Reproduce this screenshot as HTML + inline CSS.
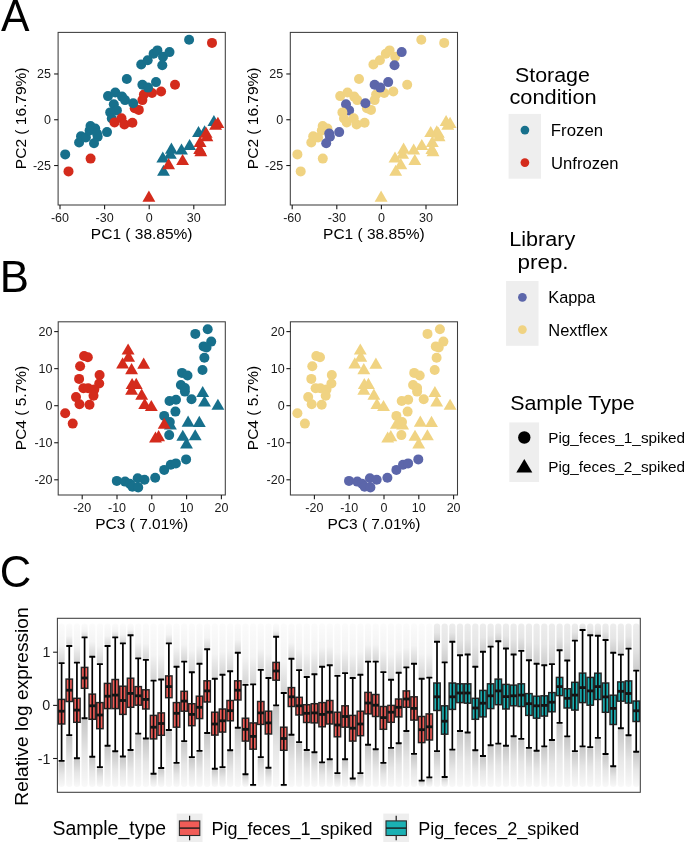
<!DOCTYPE html><html><head><meta charset="utf-8"><style>html,body{margin:0;padding:0;background:#fff;width:685px;height:843px;overflow:hidden}</style></head><body><svg width="685" height="843" viewBox="0 0 685 843" style="display:block;will-change:transform;font-family:'Liberation Sans', sans-serif"><rect width="685" height="843" fill="#fff"/><text transform="translate(0.9,31.4) scale(0.96,1)" font-size="44.5" fill="#000">A</text><text transform="translate(-0.21,292.2) scale(0.99,1)" font-size="44.2" fill="#000">B</text><text transform="translate(-0.17,586.8) scale(0.98,1)" font-size="44.5" fill="#000">C</text><rect x="58.1" y="32.4" width="167.2" height="172.6" fill="#fff"/><circle cx="134.7" cy="108.3" r="5" fill="#D42B1C"/><circle cx="138.8" cy="109.9" r="5" fill="#D42B1C"/><circle cx="142.4" cy="100.1" r="5" fill="#D42B1C"/><circle cx="143.9" cy="94.5" r="5" fill="#D42B1C"/><circle cx="152" cy="93" r="5" fill="#D42B1C"/><circle cx="161.1" cy="91.5" r="5" fill="#D42B1C"/><circle cx="175" cy="84.7" r="5" fill="#D42B1C"/><circle cx="212" cy="42.9" r="5" fill="#D42B1C"/><circle cx="65.2" cy="154.4" r="5" fill="#17708C"/><circle cx="79.1" cy="142.5" r="5" fill="#17708C"/><circle cx="81" cy="136.3" r="5" fill="#17708C"/><circle cx="85.9" cy="137.5" r="5" fill="#17708C"/><circle cx="90.5" cy="126.1" r="5" fill="#17708C"/><circle cx="95.2" cy="128.6" r="5" fill="#17708C"/><circle cx="89.6" cy="130.5" r="5" fill="#17708C"/><circle cx="97.7" cy="136.7" r="5" fill="#17708C"/><circle cx="94" cy="143.3" r="5" fill="#17708C"/><circle cx="107" cy="132.1" r="5" fill="#17708C"/><circle cx="108" cy="96.1" r="5" fill="#17708C"/><circle cx="115.3" cy="92.5" r="5" fill="#17708C"/><circle cx="122" cy="96.6" r="5" fill="#17708C"/><circle cx="125" cy="100.1" r="5" fill="#17708C"/><circle cx="133.2" cy="103.2" r="5" fill="#17708C"/><circle cx="113.8" cy="104.2" r="5" fill="#17708C"/><circle cx="116.9" cy="110.4" r="5" fill="#17708C"/><circle cx="110.2" cy="112.4" r="5" fill="#17708C"/><circle cx="111.8" cy="118.5" r="5" fill="#17708C"/><circle cx="126.8" cy="79" r="5" fill="#17708C"/><circle cx="142.4" cy="84.8" r="5" fill="#17708C"/><circle cx="148" cy="87.6" r="5" fill="#17708C"/><circle cx="156" cy="82.1" r="5" fill="#17708C"/><circle cx="141.2" cy="64.5" r="5" fill="#17708C"/><circle cx="147.7" cy="60.3" r="5" fill="#17708C"/><circle cx="153.6" cy="53.7" r="5" fill="#17708C"/><circle cx="157.4" cy="50.4" r="5" fill="#17708C"/><circle cx="163" cy="56.8" r="5" fill="#17708C"/><circle cx="169.5" cy="52.1" r="5" fill="#17708C"/><circle cx="162.3" cy="65.3" r="5" fill="#17708C"/><circle cx="189.1" cy="39.8" r="5" fill="#17708C"/><circle cx="97" cy="133.6" r="5" fill="#17708C"/><circle cx="68.5" cy="171.4" r="5" fill="#D42B1C"/><circle cx="90.6" cy="158.6" r="5" fill="#D42B1C"/><circle cx="114.5" cy="122.4" r="5" fill="#D42B1C"/><circle cx="121.5" cy="118.3" r="5" fill="#D42B1C"/><circle cx="124.4" cy="124.4" r="5" fill="#D42B1C"/><circle cx="132.4" cy="122.8" r="5" fill="#D42B1C"/><path d="M162.8 151.5L169.25 162.6L156.35 162.6Z" fill="#17708C"/><path d="M171.4 142.6L177.85 153.7L164.95 153.7Z" fill="#17708C"/><path d="M170.4 147.7L176.85 158.8L163.95 158.8Z" fill="#17708C"/><path d="M181.5 143.5L187.95 154.6L175.05 154.6Z" fill="#17708C"/><path d="M189.6 138.9L196.05 150L183.15 150Z" fill="#17708C"/><path d="M163.5 164.7L169.95 175.8L157.05 175.8Z" fill="#17708C"/><path d="M198.5 125.9L204.95 137L192.05 137Z" fill="#17708C"/><path d="M204.6 125.2L211.05 136.3L198.15 136.3Z" fill="#17708C"/><path d="M213.9 114.9L220.35 126L207.45 126Z" fill="#17708C"/><path d="M168.6 158.1L175.05 169.2L162.15 169.2Z" fill="#D42B1C"/><path d="M182.6 154L189.05 165.1L176.15 165.1Z" fill="#D42B1C"/><path d="M148.9 190.6L155.35 201.7L142.45 201.7Z" fill="#D42B1C"/><path d="M217.9 116.8L224.35 127.9L211.45 127.9Z" fill="#D42B1C"/><path d="M215.6 118.7L222.05 129.8L209.15 129.8Z" fill="#D42B1C"/><path d="M206.1 126.7L212.55 137.8L199.65 137.8Z" fill="#D42B1C"/><path d="M206.9 130.1L213.35 141.2L200.45 141.2Z" fill="#D42B1C"/><path d="M200.1 135.8L206.55 146.9L193.65 146.9Z" fill="#D42B1C"/><path d="M199.7 142.8L206.15 153.9L193.25 153.9Z" fill="#D42B1C"/><path d="M200.8 145.1L207.25 156.2L194.35 156.2Z" fill="#D42B1C"/><rect x="58.1" y="32.4" width="167.2" height="172.6" fill="none" stroke="#3d3d3d" stroke-width="1.05"/><line x1="60" y1="205" x2="60" y2="209.2" stroke="#1a1a1a" stroke-width="1.1"/><text transform="translate(50.96,221.7)" font-size="12.5" fill="#1a1a1a">-60</text><line x1="104.6" y1="205" x2="104.6" y2="209.2" stroke="#1a1a1a" stroke-width="1.1"/><text transform="translate(95.57,221.7)" font-size="12.5" fill="#1a1a1a">-30</text><line x1="149.2" y1="205" x2="149.2" y2="209.2" stroke="#1a1a1a" stroke-width="1.1"/><text transform="translate(145.72,221.7)" font-size="12.5" fill="#1a1a1a">0</text><line x1="193.8" y1="205" x2="193.8" y2="209.2" stroke="#1a1a1a" stroke-width="1.1"/><text transform="translate(186.85,221.7)" font-size="12.5" fill="#1a1a1a">30</text><line x1="54.1" y1="73.97" x2="58.1" y2="73.97" stroke="#1a1a1a" stroke-width="1.1"/><text x="37.05" y="78.41" font-size="12.5" fill="#1a1a1a">25</text><line x1="54.1" y1="119.75" x2="58.1" y2="119.75" stroke="#1a1a1a" stroke-width="1.1"/><text x="44" y="124.19" font-size="12.5" fill="#1a1a1a">0</text><line x1="54.1" y1="165.53" x2="58.1" y2="165.53" stroke="#1a1a1a" stroke-width="1.1"/><text x="32.89" y="169.96" font-size="12.5" fill="#1a1a1a">-25</text><text transform="translate(90.87,238.7)" font-size="15.5" fill="#000">PC1 ( 38.85%)</text><text transform="translate(25.9,118.3) rotate(-90)" font-size="15.5" fill="#000" text-anchor="middle">PC2 ( 16.79%)</text><rect x="290.3" y="32.4" width="167.2" height="172.6" fill="#fff"/><circle cx="366.9" cy="108.3" r="5" fill="#F0D382"/><circle cx="371" cy="109.9" r="5" fill="#F0D382"/><circle cx="374.6" cy="100.1" r="5" fill="#F0D382"/><circle cx="376.1" cy="94.5" r="5" fill="#F0D382"/><circle cx="384.2" cy="93" r="5" fill="#F0D382"/><circle cx="393.3" cy="91.5" r="5" fill="#F0D382"/><circle cx="407.2" cy="84.7" r="5" fill="#F0D382"/><circle cx="444.2" cy="42.9" r="5" fill="#F0D382"/><circle cx="297.4" cy="154.4" r="5" fill="#F0D382"/><circle cx="311.3" cy="142.5" r="5" fill="#F0D382"/><circle cx="313.2" cy="136.3" r="5" fill="#F0D382"/><circle cx="318.1" cy="137.5" r="5" fill="#F0D382"/><circle cx="322.7" cy="126.1" r="5" fill="#F0D382"/><circle cx="327.4" cy="128.6" r="5" fill="#F0D382"/><circle cx="321.8" cy="130.5" r="5" fill="#F0D382"/><circle cx="329.9" cy="136.7" r="5" fill="#5C66AA"/><circle cx="326.2" cy="143.3" r="5" fill="#5C66AA"/><circle cx="339.2" cy="132.1" r="5" fill="#5C66AA"/><circle cx="340.2" cy="96.1" r="5" fill="#F0D382"/><circle cx="347.5" cy="92.5" r="5" fill="#F0D382"/><circle cx="354.2" cy="96.6" r="5" fill="#F0D382"/><circle cx="357.2" cy="100.1" r="5" fill="#F0D382"/><circle cx="365.4" cy="103.2" r="5" fill="#5C66AA"/><circle cx="346" cy="104.2" r="5" fill="#5C66AA"/><circle cx="349.1" cy="110.4" r="5" fill="#5C66AA"/><circle cx="342.4" cy="112.4" r="5" fill="#F0D382"/><circle cx="344" cy="118.5" r="5" fill="#F0D382"/><circle cx="359" cy="79" r="5" fill="#F0D382"/><circle cx="374.6" cy="84.8" r="5" fill="#5C66AA"/><circle cx="380.2" cy="87.6" r="5" fill="#5C66AA"/><circle cx="388.2" cy="82.1" r="5" fill="#5C66AA"/><circle cx="373.4" cy="64.5" r="5" fill="#F0D382"/><circle cx="379.9" cy="60.3" r="5" fill="#F0D382"/><circle cx="385.8" cy="53.7" r="5" fill="#F0D382"/><circle cx="389.6" cy="50.4" r="5" fill="#F0D382"/><circle cx="395.2" cy="56.8" r="5" fill="#F0D382"/><circle cx="401.7" cy="52.1" r="5" fill="#5C66AA"/><circle cx="394.5" cy="65.3" r="5" fill="#5C66AA"/><circle cx="421.3" cy="39.8" r="5" fill="#F0D382"/><circle cx="329.2" cy="133.6" r="5" fill="#5C66AA"/><circle cx="300.7" cy="171.4" r="5" fill="#F0D382"/><circle cx="322.8" cy="158.6" r="5" fill="#F0D382"/><circle cx="346.7" cy="122.4" r="5" fill="#F0D382"/><circle cx="353.7" cy="118.3" r="5" fill="#F0D382"/><circle cx="356.6" cy="124.4" r="5" fill="#F0D382"/><circle cx="364.6" cy="122.8" r="5" fill="#F0D382"/><path d="M395 151.5L401.45 162.6L388.55 162.6Z" fill="#F0D382"/><path d="M403.6 142.6L410.05 153.7L397.15 153.7Z" fill="#F0D382"/><path d="M402.6 147.7L409.05 158.8L396.15 158.8Z" fill="#F0D382"/><path d="M413.7 143.5L420.15 154.6L407.25 154.6Z" fill="#F0D382"/><path d="M421.8 138.9L428.25 150L415.35 150Z" fill="#F0D382"/><path d="M395.7 164.7L402.15 175.8L389.25 175.8Z" fill="#F0D382"/><path d="M430.7 125.9L437.15 137L424.25 137Z" fill="#F0D382"/><path d="M436.8 125.2L443.25 136.3L430.35 136.3Z" fill="#F0D382"/><path d="M446.1 114.9L452.55 126L439.65 126Z" fill="#F0D382"/><path d="M400.8 158.1L407.25 169.2L394.35 169.2Z" fill="#F0D382"/><path d="M414.8 154L421.25 165.1L408.35 165.1Z" fill="#F0D382"/><path d="M381.1 190.6L387.55 201.7L374.65 201.7Z" fill="#F0D382"/><path d="M450.1 116.8L456.55 127.9L443.65 127.9Z" fill="#F0D382"/><path d="M447.8 118.7L454.25 129.8L441.35 129.8Z" fill="#F0D382"/><path d="M438.3 126.7L444.75 137.8L431.85 137.8Z" fill="#F0D382"/><path d="M439.1 130.1L445.55 141.2L432.65 141.2Z" fill="#F0D382"/><path d="M432.3 135.8L438.75 146.9L425.85 146.9Z" fill="#F0D382"/><path d="M431.9 142.8L438.35 153.9L425.45 153.9Z" fill="#F0D382"/><path d="M433 145.1L439.45 156.2L426.55 156.2Z" fill="#F0D382"/><rect x="290.3" y="32.4" width="167.2" height="172.6" fill="none" stroke="#3d3d3d" stroke-width="1.05"/><line x1="292.2" y1="205" x2="292.2" y2="209.2" stroke="#1a1a1a" stroke-width="1.1"/><text transform="translate(283.16,221.7)" font-size="12.5" fill="#1a1a1a">-60</text><line x1="336.8" y1="205" x2="336.8" y2="209.2" stroke="#1a1a1a" stroke-width="1.1"/><text transform="translate(327.77,221.7)" font-size="12.5" fill="#1a1a1a">-30</text><line x1="381.4" y1="205" x2="381.4" y2="209.2" stroke="#1a1a1a" stroke-width="1.1"/><text transform="translate(377.92,221.7)" font-size="12.5" fill="#1a1a1a">0</text><line x1="426" y1="205" x2="426" y2="209.2" stroke="#1a1a1a" stroke-width="1.1"/><text transform="translate(419.05,221.7)" font-size="12.5" fill="#1a1a1a">30</text><line x1="286.3" y1="73.97" x2="290.3" y2="73.97" stroke="#1a1a1a" stroke-width="1.1"/><text x="269.25" y="78.41" font-size="12.5" fill="#1a1a1a">25</text><line x1="286.3" y1="119.75" x2="290.3" y2="119.75" stroke="#1a1a1a" stroke-width="1.1"/><text x="276.2" y="124.19" font-size="12.5" fill="#1a1a1a">0</text><line x1="286.3" y1="165.53" x2="290.3" y2="165.53" stroke="#1a1a1a" stroke-width="1.1"/><text x="265.09" y="169.96" font-size="12.5" fill="#1a1a1a">-25</text><text transform="translate(323.07,238.7)" font-size="15.5" fill="#000">PC1 ( 38.85%)</text><text transform="translate(258.1,118.3) rotate(-90)" font-size="15.5" fill="#000" text-anchor="middle">PC2 ( 16.79%)</text><circle cx="207.7" cy="329.2" r="5" fill="#17708C"/><circle cx="195.3" cy="333.9" r="5" fill="#17708C"/><circle cx="211.2" cy="341.6" r="5" fill="#17708C"/><circle cx="203.6" cy="346.4" r="5" fill="#17708C"/><circle cx="206.5" cy="347.5" r="5" fill="#17708C"/><circle cx="204.4" cy="357.8" r="5" fill="#17708C"/><circle cx="202.5" cy="370" r="5" fill="#17708C"/><circle cx="182" cy="372.9" r="5" fill="#17708C"/><circle cx="187.5" cy="375.5" r="5" fill="#17708C"/><circle cx="180.9" cy="385" r="5" fill="#17708C"/><circle cx="184.9" cy="388" r="5" fill="#17708C"/><circle cx="184.9" cy="391.6" r="5" fill="#17708C"/><circle cx="191.5" cy="399.2" r="5" fill="#17708C"/><circle cx="176" cy="399.8" r="5" fill="#17708C"/><circle cx="169.5" cy="401" r="5" fill="#17708C"/><circle cx="175.4" cy="411.6" r="5" fill="#17708C"/><circle cx="164.2" cy="415.9" r="5" fill="#17708C"/><circle cx="169.8" cy="422.1" r="5" fill="#17708C"/><circle cx="169.2" cy="435.1" r="5" fill="#17708C"/><circle cx="116.8" cy="480.9" r="5" fill="#17708C"/><circle cx="125.1" cy="481.6" r="5" fill="#17708C"/><circle cx="129.9" cy="483.8" r="5" fill="#17708C"/><circle cx="132.4" cy="486.7" r="5" fill="#17708C"/><circle cx="137.7" cy="478.2" r="5" fill="#17708C"/><circle cx="138.2" cy="487.4" r="5" fill="#17708C"/><circle cx="144.5" cy="479.7" r="5" fill="#17708C"/><circle cx="155.2" cy="477.7" r="5" fill="#17708C"/><circle cx="164.2" cy="469.9" r="5" fill="#17708C"/><circle cx="170.8" cy="464.8" r="5" fill="#17708C"/><circle cx="175.9" cy="463.4" r="5" fill="#17708C"/><circle cx="186.1" cy="459.4" r="5" fill="#17708C"/><path d="M202.7 386L209.15 397.1L196.25 397.1Z" fill="#17708C"/><path d="M204.5 395.5L210.95 406.6L198.05 406.6Z" fill="#17708C"/><path d="M217.9 398.7L224.35 409.8L211.45 409.8Z" fill="#17708C"/><path d="M188.1 415.6L194.55 426.7L181.65 426.7Z" fill="#17708C"/><path d="M199.3 415.8L205.75 426.9L192.85 426.9Z" fill="#17708C"/><path d="M182.8 429.7L189.25 440.8L176.35 440.8Z" fill="#17708C"/><path d="M195.2 429.2L201.65 440.3L188.75 440.3Z" fill="#17708C"/><path d="M186.5 437.5L192.95 448.6L180.05 448.6Z" fill="#17708C"/><path d="M170.4 418.3L176.85 429.4L163.95 429.4Z" fill="#17708C"/><circle cx="84.1" cy="356" r="5" fill="#D42B1C"/><circle cx="87.8" cy="357.2" r="5" fill="#D42B1C"/><circle cx="80.1" cy="366.2" r="5" fill="#D42B1C"/><circle cx="79.1" cy="378.9" r="5" fill="#D42B1C"/><circle cx="99.6" cy="375" r="5" fill="#D42B1C"/><circle cx="99.2" cy="383.5" r="5" fill="#D42B1C"/><circle cx="83.4" cy="388.3" r="5" fill="#D42B1C"/><circle cx="88.2" cy="388.3" r="5" fill="#D42B1C"/><circle cx="94.3" cy="389.6" r="5" fill="#D42B1C"/><circle cx="93.5" cy="395.8" r="5" fill="#D42B1C"/><circle cx="76" cy="397.1" r="5" fill="#D42B1C"/><circle cx="79.5" cy="404.3" r="5" fill="#D42B1C"/><circle cx="89.5" cy="404.7" r="5" fill="#D42B1C"/><circle cx="65.2" cy="413.3" r="5" fill="#D42B1C"/><circle cx="72.7" cy="423.6" r="5" fill="#D42B1C"/><path d="M128.1 343.5L134.55 354.6L121.65 354.6Z" fill="#D42B1C"/><path d="M128.6 350.6L135.05 361.7L122.15 361.7Z" fill="#D42B1C"/><path d="M122.6 357.3L129.05 368.4L116.15 368.4Z" fill="#D42B1C"/><path d="M131.6 363.1L138.05 374.2L125.15 374.2Z" fill="#D42B1C"/><path d="M143.7 357.6L150.15 368.7L137.25 368.7Z" fill="#D42B1C"/><path d="M132.1 378L138.55 389.1L125.65 389.1Z" fill="#D42B1C"/><path d="M136.2 377.8L142.65 388.9L129.75 388.9Z" fill="#D42B1C"/><path d="M131.6 383.6L138.05 394.7L125.15 394.7Z" fill="#D42B1C"/><path d="M141.7 388.6L148.15 399.7L135.25 399.7Z" fill="#D42B1C"/><path d="M144.7 398L151.15 409.1L138.25 409.1Z" fill="#D42B1C"/><path d="M151.3 400L157.75 411.1L144.85 411.1Z" fill="#D42B1C"/><path d="M164.2 417.7L170.65 428.8L157.75 428.8Z" fill="#D42B1C"/><path d="M158.6 430.1L165.05 441.2L152.15 441.2Z" fill="#D42B1C"/><path d="M155.5 431.5L161.95 442.6L149.05 442.6Z" fill="#D42B1C"/><rect x="58.2" y="321.8" width="167.1" height="173.2" fill="none" stroke="#3d3d3d" stroke-width="1.05"/><line x1="82.2" y1="495" x2="82.2" y2="499.2" stroke="#1a1a1a" stroke-width="1.1"/><text transform="translate(73.17,511.7)" font-size="12.5" fill="#1a1a1a">-20</text><line x1="117" y1="495" x2="117" y2="499.2" stroke="#1a1a1a" stroke-width="1.1"/><text transform="translate(107.97,511.7)" font-size="12.5" fill="#1a1a1a">-10</text><line x1="151.8" y1="495" x2="151.8" y2="499.2" stroke="#1a1a1a" stroke-width="1.1"/><text transform="translate(148.32,511.7)" font-size="12.5" fill="#1a1a1a">0</text><line x1="186.6" y1="495" x2="186.6" y2="499.2" stroke="#1a1a1a" stroke-width="1.1"/><text transform="translate(179.65,511.7)" font-size="12.5" fill="#1a1a1a">10</text><line x1="221.4" y1="495" x2="221.4" y2="499.2" stroke="#1a1a1a" stroke-width="1.1"/><text transform="translate(214.45,511.7)" font-size="12.5" fill="#1a1a1a">20</text><line x1="54.2" y1="331.6" x2="58.2" y2="331.6" stroke="#1a1a1a" stroke-width="1.1"/><text x="38.55" y="336.04" font-size="12.5" fill="#1a1a1a">20</text><line x1="54.2" y1="368.65" x2="58.2" y2="368.65" stroke="#1a1a1a" stroke-width="1.1"/><text x="38.55" y="373.09" font-size="12.5" fill="#1a1a1a">10</text><line x1="54.2" y1="405.7" x2="58.2" y2="405.7" stroke="#1a1a1a" stroke-width="1.1"/><text x="45.5" y="410.14" font-size="12.5" fill="#1a1a1a">0</text><line x1="54.2" y1="442.75" x2="58.2" y2="442.75" stroke="#1a1a1a" stroke-width="1.1"/><text x="34.39" y="447.19" font-size="12.5" fill="#1a1a1a">-10</text><line x1="54.2" y1="479.8" x2="58.2" y2="479.8" stroke="#1a1a1a" stroke-width="1.1"/><text x="34.39" y="484.24" font-size="12.5" fill="#1a1a1a">-20</text><text transform="translate(95.23,528.6)" font-size="15.5" fill="#000">PC3 ( 7.01%)</text><text transform="translate(25.9,408) rotate(-90)" font-size="15.5" fill="#000" text-anchor="middle">PC4 ( 5.7%)</text><circle cx="439.9" cy="329.2" r="5" fill="#F0D382"/><circle cx="427.5" cy="333.9" r="5" fill="#F0D382"/><circle cx="443.4" cy="341.6" r="5" fill="#F0D382"/><circle cx="435.8" cy="346.4" r="5" fill="#F0D382"/><circle cx="438.7" cy="347.5" r="5" fill="#F0D382"/><circle cx="436.6" cy="357.8" r="5" fill="#F0D382"/><circle cx="434.7" cy="370" r="5" fill="#F0D382"/><circle cx="414.2" cy="372.9" r="5" fill="#F0D382"/><circle cx="419.7" cy="375.5" r="5" fill="#F0D382"/><circle cx="413.1" cy="385" r="5" fill="#F0D382"/><circle cx="417.1" cy="388" r="5" fill="#F0D382"/><circle cx="417.1" cy="391.6" r="5" fill="#F0D382"/><circle cx="423.7" cy="399.2" r="5" fill="#F0D382"/><circle cx="408.2" cy="399.8" r="5" fill="#F0D382"/><circle cx="401.7" cy="401" r="5" fill="#F0D382"/><circle cx="407.6" cy="411.6" r="5" fill="#F0D382"/><circle cx="396.4" cy="415.9" r="5" fill="#F0D382"/><circle cx="402" cy="422.1" r="5" fill="#F0D382"/><circle cx="401.4" cy="435.1" r="5" fill="#F0D382"/><circle cx="349" cy="480.9" r="5" fill="#5C66AA"/><circle cx="357.3" cy="481.6" r="5" fill="#5C66AA"/><circle cx="362.1" cy="483.8" r="5" fill="#5C66AA"/><circle cx="364.6" cy="486.7" r="5" fill="#5C66AA"/><circle cx="369.9" cy="478.2" r="5" fill="#5C66AA"/><circle cx="370.4" cy="487.4" r="5" fill="#5C66AA"/><circle cx="376.7" cy="479.7" r="5" fill="#5C66AA"/><circle cx="387.4" cy="477.7" r="5" fill="#5C66AA"/><circle cx="396.4" cy="469.9" r="5" fill="#5C66AA"/><circle cx="403" cy="464.8" r="5" fill="#5C66AA"/><circle cx="408.1" cy="463.4" r="5" fill="#5C66AA"/><circle cx="418.3" cy="459.4" r="5" fill="#5C66AA"/><path d="M434.9 386L441.35 397.1L428.45 397.1Z" fill="#F0D382"/><path d="M436.7 395.5L443.15 406.6L430.25 406.6Z" fill="#F0D382"/><path d="M450.1 398.7L456.55 409.8L443.65 409.8Z" fill="#F0D382"/><path d="M420.3 415.6L426.75 426.7L413.85 426.7Z" fill="#F0D382"/><path d="M431.5 415.8L437.95 426.9L425.05 426.9Z" fill="#F0D382"/><path d="M415 429.7L421.45 440.8L408.55 440.8Z" fill="#F0D382"/><path d="M427.4 429.2L433.85 440.3L420.95 440.3Z" fill="#F0D382"/><path d="M418.7 437.5L425.15 448.6L412.25 448.6Z" fill="#F0D382"/><path d="M402.6 418.3L409.05 429.4L396.15 429.4Z" fill="#F0D382"/><circle cx="316.3" cy="356" r="5" fill="#F0D382"/><circle cx="320" cy="357.2" r="5" fill="#F0D382"/><circle cx="312.3" cy="366.2" r="5" fill="#F0D382"/><circle cx="311.3" cy="378.9" r="5" fill="#F0D382"/><circle cx="331.8" cy="375" r="5" fill="#F0D382"/><circle cx="331.4" cy="383.5" r="5" fill="#F0D382"/><circle cx="315.6" cy="388.3" r="5" fill="#F0D382"/><circle cx="320.4" cy="388.3" r="5" fill="#F0D382"/><circle cx="326.5" cy="389.6" r="5" fill="#F0D382"/><circle cx="325.7" cy="395.8" r="5" fill="#F0D382"/><circle cx="308.2" cy="397.1" r="5" fill="#F0D382"/><circle cx="311.7" cy="404.3" r="5" fill="#F0D382"/><circle cx="321.7" cy="404.7" r="5" fill="#F0D382"/><circle cx="297.4" cy="413.3" r="5" fill="#F0D382"/><circle cx="304.9" cy="423.6" r="5" fill="#F0D382"/><path d="M360.3 343.5L366.75 354.6L353.85 354.6Z" fill="#F0D382"/><path d="M360.8 350.6L367.25 361.7L354.35 361.7Z" fill="#F0D382"/><path d="M354.8 357.3L361.25 368.4L348.35 368.4Z" fill="#F0D382"/><path d="M363.8 363.1L370.25 374.2L357.35 374.2Z" fill="#F0D382"/><path d="M375.9 357.6L382.35 368.7L369.45 368.7Z" fill="#F0D382"/><path d="M364.3 378L370.75 389.1L357.85 389.1Z" fill="#F0D382"/><path d="M368.4 377.8L374.85 388.9L361.95 388.9Z" fill="#F0D382"/><path d="M363.8 383.6L370.25 394.7L357.35 394.7Z" fill="#F0D382"/><path d="M373.9 388.6L380.35 399.7L367.45 399.7Z" fill="#F0D382"/><path d="M376.9 398L383.35 409.1L370.45 409.1Z" fill="#F0D382"/><path d="M383.5 400L389.95 411.1L377.05 411.1Z" fill="#F0D382"/><path d="M396.4 417.7L402.85 428.8L389.95 428.8Z" fill="#F0D382"/><path d="M390.8 430.1L397.25 441.2L384.35 441.2Z" fill="#F0D382"/><path d="M387.7 431.5L394.15 442.6L381.25 442.6Z" fill="#F0D382"/><rect x="290.4" y="321.8" width="167.1" height="173.2" fill="none" stroke="#3d3d3d" stroke-width="1.05"/><line x1="314.4" y1="495" x2="314.4" y2="499.2" stroke="#1a1a1a" stroke-width="1.1"/><text transform="translate(305.37,511.7)" font-size="12.5" fill="#1a1a1a">-20</text><line x1="349.2" y1="495" x2="349.2" y2="499.2" stroke="#1a1a1a" stroke-width="1.1"/><text transform="translate(340.17,511.7)" font-size="12.5" fill="#1a1a1a">-10</text><line x1="384" y1="495" x2="384" y2="499.2" stroke="#1a1a1a" stroke-width="1.1"/><text transform="translate(380.52,511.7)" font-size="12.5" fill="#1a1a1a">0</text><line x1="418.8" y1="495" x2="418.8" y2="499.2" stroke="#1a1a1a" stroke-width="1.1"/><text transform="translate(411.85,511.7)" font-size="12.5" fill="#1a1a1a">10</text><line x1="453.6" y1="495" x2="453.6" y2="499.2" stroke="#1a1a1a" stroke-width="1.1"/><text transform="translate(446.65,511.7)" font-size="12.5" fill="#1a1a1a">20</text><line x1="286.4" y1="331.6" x2="290.4" y2="331.6" stroke="#1a1a1a" stroke-width="1.1"/><text x="270.75" y="336.04" font-size="12.5" fill="#1a1a1a">20</text><line x1="286.4" y1="368.65" x2="290.4" y2="368.65" stroke="#1a1a1a" stroke-width="1.1"/><text x="270.75" y="373.09" font-size="12.5" fill="#1a1a1a">10</text><line x1="286.4" y1="405.7" x2="290.4" y2="405.7" stroke="#1a1a1a" stroke-width="1.1"/><text x="277.7" y="410.14" font-size="12.5" fill="#1a1a1a">0</text><line x1="286.4" y1="442.75" x2="290.4" y2="442.75" stroke="#1a1a1a" stroke-width="1.1"/><text x="266.59" y="447.19" font-size="12.5" fill="#1a1a1a">-10</text><line x1="286.4" y1="479.8" x2="290.4" y2="479.8" stroke="#1a1a1a" stroke-width="1.1"/><text x="266.59" y="484.24" font-size="12.5" fill="#1a1a1a">-20</text><text transform="translate(327.43,528.6)" font-size="15.5" fill="#000">PC3 ( 7.01%)</text><text transform="translate(258.1,408) rotate(-90)" font-size="15.5" fill="#000" text-anchor="middle">PC4 ( 5.7%)</text><text transform="translate(514.94,81.5) scale(1.11,1)" font-size="19.3" fill="#000">Storage</text><text transform="translate(509.43,104.4) scale(1.13,1)" font-size="19.3" fill="#000">condition</text><rect x="508.6" y="113.9" width="32.4" height="64.8" fill="#EEEEEE"/><circle cx="524.9" cy="130.1" r="4.35" fill="#17708C"/><circle cx="524.9" cy="162.6" r="4.35" fill="#D42B1C"/><text transform="translate(550.86,136.3) scale(1.03,1)" font-size="16.3" fill="#000">Frozen</text><text transform="translate(551.03,168.7) scale(1.02,1)" font-size="16.3" fill="#000">Unfrozen</text><text transform="translate(509.17,246.3) scale(1.12,1)" font-size="19.3" fill="#000">Library</text><text transform="translate(517.56,269.1) scale(1.16,1)" font-size="19.3" fill="#000">prep.</text><rect x="506.1" y="281.0" width="32.4" height="64.8" fill="#EEEEEE"/><circle cx="522.4" cy="297.3" r="4.35" fill="#5C66AA"/><circle cx="522.4" cy="329.6" r="4.35" fill="#F0D382"/><text transform="translate(548.29,303.3)" font-size="16.3" fill="#000">Kappa</text><text transform="translate(548.28,335.6) scale(1.01,1)" font-size="16.3" fill="#000">Nextflex</text><text transform="translate(510.14,410.3) scale(1.11,1)" font-size="19.3" fill="#000">Sample Type</text><rect x="509.3" y="422.4" width="29.8" height="59.6" fill="#EEEEEE"/><circle cx="524.3" cy="437.5" r="6.2" fill="#000"/><path d="M524.3 459L532.3 472.5L516.3 472.5Z" fill="#000"/><text transform="translate(548.18,443.2)" font-size="15.3" fill="#000">Pig_feces_1_spiked</text><text transform="translate(548.18,472)" font-size="15.3" fill="#000">Pig_feces_2_spiked</text><defs><linearGradient id="gu" x1="0" y1="0" x2="0" y2="1"><stop offset="0" stop-color="#000" stop-opacity="0.015"/><stop offset="0.55" stop-color="#000" stop-opacity="0.045"/><stop offset="1" stop-color="#000" stop-opacity="0.17"/></linearGradient><linearGradient id="gd" x1="0" y1="0" x2="0" y2="1"><stop offset="0" stop-color="#000" stop-opacity="0.23"/><stop offset="0.5" stop-color="#000" stop-opacity="0.1"/><stop offset="1" stop-color="#000" stop-opacity="0.025"/></linearGradient><linearGradient id="gu2" x1="0" y1="0" x2="0" y2="1"><stop offset="0" stop-color="#000" stop-opacity="0.07"/><stop offset="0.5" stop-color="#000" stop-opacity="0.1"/><stop offset="1" stop-color="#000" stop-opacity="0.2"/></linearGradient></defs><rect x="58.5" y="623.5" width="6.2" height="39.6" rx="3" fill="url(#gu)"/><rect x="58.5" y="760.9" width="6.2" height="26.1" rx="3" fill="url(#gd)"/><rect x="66.16" y="623.5" width="6.2" height="22.5" rx="3" fill="url(#gu)"/><rect x="66.16" y="735.1" width="6.2" height="51.9" rx="3" fill="url(#gd)"/><rect x="73.82" y="623.5" width="6.2" height="39.1" rx="3" fill="url(#gu)"/><rect x="73.82" y="758.2" width="6.2" height="28.8" rx="3" fill="url(#gd)"/><rect x="81.48" y="623.5" width="6.2" height="13.9" rx="3" fill="url(#gu)"/><rect x="81.48" y="718.2" width="6.2" height="68.8" rx="3" fill="url(#gd)"/><rect x="89.15" y="623.5" width="6.2" height="33.2" rx="3" fill="url(#gu)"/><rect x="89.15" y="756.7" width="6.2" height="30.3" rx="3" fill="url(#gd)"/><rect x="96.81" y="623.5" width="6.2" height="40.6" rx="3" fill="url(#gu)"/><rect x="96.81" y="767.1" width="6.2" height="19.9" rx="3" fill="url(#gd)"/><rect x="104.47" y="623.5" width="6.2" height="22.5" rx="3" fill="url(#gu)"/><rect x="104.47" y="745.8" width="6.2" height="41.2" rx="3" fill="url(#gd)"/><rect x="112.13" y="623.5" width="6.2" height="13.9" rx="3" fill="url(#gu)"/><rect x="112.13" y="751.3" width="6.2" height="35.7" rx="3" fill="url(#gd)"/><rect x="119.79" y="623.5" width="6.2" height="19.9" rx="3" fill="url(#gu)"/><rect x="119.79" y="756.5" width="6.2" height="30.5" rx="3" fill="url(#gd)"/><rect x="127.45" y="623.5" width="6.2" height="11.8" rx="3" fill="url(#gu)"/><rect x="127.45" y="750" width="6.2" height="37" rx="3" fill="url(#gd)"/><rect x="135.11" y="623.5" width="6.2" height="34.9" rx="3" fill="url(#gu)"/><rect x="135.11" y="733.6" width="6.2" height="53.4" rx="3" fill="url(#gd)"/><rect x="142.77" y="623.5" width="6.2" height="36.4" rx="3" fill="url(#gu)"/><rect x="142.77" y="738.5" width="6.2" height="48.5" rx="3" fill="url(#gd)"/><rect x="150.44" y="623.5" width="6.2" height="57.1" rx="3" fill="url(#gu)"/><rect x="150.44" y="773.8" width="6.2" height="13.2" rx="3" fill="url(#gd)"/><rect x="158.1" y="623.5" width="6.2" height="56" rx="3" fill="url(#gu)"/><rect x="158.1" y="768" width="6.2" height="19" rx="3" fill="url(#gd)"/><rect x="165.76" y="623.5" width="6.2" height="19.9" rx="3" fill="url(#gu)"/><rect x="165.76" y="730" width="6.2" height="57" rx="3" fill="url(#gd)"/><rect x="173.42" y="623.5" width="6.2" height="43.2" rx="3" fill="url(#gu)"/><rect x="173.42" y="762.9" width="6.2" height="24.1" rx="3" fill="url(#gd)"/><rect x="181.08" y="623.5" width="6.2" height="38.1" rx="3" fill="url(#gu)"/><rect x="181.08" y="741.1" width="6.2" height="45.9" rx="3" fill="url(#gd)"/><rect x="188.74" y="623.5" width="6.2" height="48.8" rx="3" fill="url(#gu)"/><rect x="188.74" y="757.1" width="6.2" height="29.9" rx="3" fill="url(#gd)"/><rect x="196.4" y="623.5" width="6.2" height="40.2" rx="3" fill="url(#gu)"/><rect x="196.4" y="750.9" width="6.2" height="36.1" rx="3" fill="url(#gd)"/><rect x="204.07" y="623.5" width="6.2" height="25.7" rx="3" fill="url(#gu)"/><rect x="204.07" y="733" width="6.2" height="54" rx="3" fill="url(#gd)"/><rect x="211.73" y="623.5" width="6.2" height="55.2" rx="3" fill="url(#gu)"/><rect x="211.73" y="768.8" width="6.2" height="18.2" rx="3" fill="url(#gd)"/><rect x="219.39" y="623.5" width="6.2" height="51.3" rx="3" fill="url(#gu)"/><rect x="219.39" y="767.1" width="6.2" height="19.9" rx="3" fill="url(#gd)"/><rect x="227.05" y="623.5" width="6.2" height="47.7" rx="3" fill="url(#gu)"/><rect x="227.05" y="750.3" width="6.2" height="36.7" rx="3" fill="url(#gd)"/><rect x="234.71" y="623.5" width="6.2" height="29.3" rx="3" fill="url(#gu)"/><rect x="234.71" y="727.8" width="6.2" height="59.2" rx="3" fill="url(#gd)"/><rect x="242.37" y="623.5" width="6.2" height="61.4" rx="3" fill="url(#gu)"/><rect x="242.37" y="774.2" width="6.2" height="12.8" rx="3" fill="url(#gd)"/><rect x="250.03" y="623.5" width="6.2" height="60.9" rx="3" fill="url(#gu)"/><rect x="250.03" y="784.9" width="6.2" height="2.1" rx="3" fill="url(#gd)"/><rect x="257.69" y="623.5" width="6.2" height="46.4" rx="3" fill="url(#gu)"/><rect x="257.69" y="757.1" width="6.2" height="29.9" rx="3" fill="url(#gd)"/><rect x="265.36" y="623.5" width="6.2" height="54.5" rx="3" fill="url(#gu)"/><rect x="265.36" y="767.8" width="6.2" height="19.2" rx="3" fill="url(#gd)"/><rect x="273.02" y="623.5" width="6.2" height="13.3" rx="3" fill="url(#gu)"/><rect x="273.02" y="705.4" width="6.2" height="81.6" rx="3" fill="url(#gd)"/><rect x="280.68" y="623.5" width="6.2" height="69.5" rx="3" fill="url(#gu)"/><rect x="280.68" y="784.9" width="6.2" height="2.1" rx="3" fill="url(#gd)"/><rect x="288.34" y="623.5" width="6.2" height="35.3" rx="3" fill="url(#gu)"/><rect x="288.34" y="734.7" width="6.2" height="52.3" rx="3" fill="url(#gd)"/><rect x="296" y="623.5" width="6.2" height="46.6" rx="3" fill="url(#gu)"/><rect x="296" y="742.1" width="6.2" height="44.9" rx="3" fill="url(#gd)"/><rect x="303.66" y="623.5" width="6.2" height="53.5" rx="3" fill="url(#gu)"/><rect x="303.66" y="750" width="6.2" height="37" rx="3" fill="url(#gd)"/><rect x="311.32" y="623.5" width="6.2" height="50.7" rx="3" fill="url(#gu)"/><rect x="311.32" y="752.2" width="6.2" height="34.8" rx="3" fill="url(#gd)"/><rect x="318.99" y="623.5" width="6.2" height="43.2" rx="3" fill="url(#gu)"/><rect x="318.99" y="762.4" width="6.2" height="24.6" rx="3" fill="url(#gd)"/><rect x="326.65" y="623.5" width="6.2" height="41.7" rx="3" fill="url(#gu)"/><rect x="326.65" y="759.2" width="6.2" height="27.8" rx="3" fill="url(#gd)"/><rect x="334.31" y="623.5" width="6.2" height="52.4" rx="3" fill="url(#gu)"/><rect x="334.31" y="773.1" width="6.2" height="13.9" rx="3" fill="url(#gd)"/><rect x="341.97" y="623.5" width="6.2" height="49.6" rx="3" fill="url(#gu)"/><rect x="341.97" y="759.2" width="6.2" height="27.8" rx="3" fill="url(#gd)"/><rect x="349.63" y="623.5" width="6.2" height="54.5" rx="3" fill="url(#gu)"/><rect x="349.63" y="778.5" width="6.2" height="8.5" rx="3" fill="url(#gd)"/><rect x="357.29" y="623.5" width="6.2" height="51.3" rx="3" fill="url(#gu)"/><rect x="357.29" y="773.1" width="6.2" height="13.9" rx="3" fill="url(#gd)"/><rect x="364.95" y="623.5" width="6.2" height="38.1" rx="3" fill="url(#gu)"/><rect x="364.95" y="744.7" width="6.2" height="42.3" rx="3" fill="url(#gd)"/><rect x="372.61" y="623.5" width="6.2" height="38.1" rx="3" fill="url(#gu)"/><rect x="372.61" y="749.2" width="6.2" height="37.8" rx="3" fill="url(#gd)"/><rect x="380.28" y="623.5" width="6.2" height="48.6" rx="3" fill="url(#gu)"/><rect x="380.28" y="762.9" width="6.2" height="24.1" rx="3" fill="url(#gd)"/><rect x="387.94" y="623.5" width="6.2" height="56.2" rx="3" fill="url(#gu)"/><rect x="387.94" y="747.9" width="6.2" height="39.1" rx="3" fill="url(#gd)"/><rect x="395.6" y="623.5" width="6.2" height="49.2" rx="3" fill="url(#gu)"/><rect x="395.6" y="743.2" width="6.2" height="43.8" rx="3" fill="url(#gd)"/><rect x="403.26" y="623.5" width="6.2" height="43.9" rx="3" fill="url(#gu)"/><rect x="403.26" y="731" width="6.2" height="56" rx="3" fill="url(#gd)"/><rect x="410.92" y="623.5" width="6.2" height="40.2" rx="3" fill="url(#gu)"/><rect x="410.92" y="753.9" width="6.2" height="33.1" rx="3" fill="url(#gd)"/><rect x="418.58" y="623.5" width="6.2" height="55.2" rx="3" fill="url(#gu)"/><rect x="418.58" y="780.6" width="6.2" height="6.4" rx="3" fill="url(#gd)"/><rect x="426.24" y="623.5" width="6.2" height="54.1" rx="3" fill="url(#gu)"/><rect x="426.24" y="777.4" width="6.2" height="9.6" rx="3" fill="url(#gd)"/><rect x="433.91" y="623.5" width="6.2" height="18.2" rx="3" fill="url(#gu2)"/><rect x="433.91" y="751.1" width="6.2" height="35.9" rx="3" fill="url(#gd)"/><rect x="441.57" y="623.5" width="6.2" height="38.9" rx="3" fill="url(#gu2)"/><rect x="441.57" y="777" width="6.2" height="10" rx="3" fill="url(#gd)"/><rect x="449.23" y="623.5" width="6.2" height="18.2" rx="3" fill="url(#gu2)"/><rect x="449.23" y="749.6" width="6.2" height="37.4" rx="3" fill="url(#gd)"/><rect x="456.89" y="623.5" width="6.2" height="31.7" rx="3" fill="url(#gu2)"/><rect x="456.89" y="731" width="6.2" height="56" rx="3" fill="url(#gd)"/><rect x="464.55" y="623.5" width="6.2" height="31" rx="3" fill="url(#gu2)"/><rect x="464.55" y="732.5" width="6.2" height="54.5" rx="3" fill="url(#gd)"/><rect x="472.21" y="623.5" width="6.2" height="43.2" rx="3" fill="url(#gu2)"/><rect x="472.21" y="750.3" width="6.2" height="36.7" rx="3" fill="url(#gd)"/><rect x="479.87" y="623.5" width="6.2" height="28.3" rx="3" fill="url(#gu2)"/><rect x="479.87" y="756" width="6.2" height="31" rx="3" fill="url(#gd)"/><rect x="487.53" y="623.5" width="6.2" height="23.1" rx="3" fill="url(#gu2)"/><rect x="487.53" y="745.3" width="6.2" height="41.7" rx="3" fill="url(#gd)"/><rect x="495.2" y="623.5" width="6.2" height="17.8" rx="3" fill="url(#gu2)"/><rect x="495.2" y="743.6" width="6.2" height="43.4" rx="3" fill="url(#gd)"/><rect x="502.86" y="623.5" width="6.2" height="25" rx="3" fill="url(#gu2)"/><rect x="502.86" y="745.8" width="6.2" height="41.2" rx="3" fill="url(#gd)"/><rect x="510.52" y="623.5" width="6.2" height="31" rx="3" fill="url(#gu2)"/><rect x="510.52" y="736.2" width="6.2" height="50.8" rx="3" fill="url(#gd)"/><rect x="518.18" y="623.5" width="6.2" height="27.4" rx="3" fill="url(#gu2)"/><rect x="518.18" y="738.9" width="6.2" height="48.1" rx="3" fill="url(#gd)"/><rect x="525.84" y="623.5" width="6.2" height="36.8" rx="3" fill="url(#gu2)"/><rect x="525.84" y="747.9" width="6.2" height="39.1" rx="3" fill="url(#gd)"/><rect x="533.5" y="623.5" width="6.2" height="40.2" rx="3" fill="url(#gu2)"/><rect x="533.5" y="750.7" width="6.2" height="36.3" rx="3" fill="url(#gd)"/><rect x="541.16" y="623.5" width="6.2" height="41.7" rx="3" fill="url(#gu2)"/><rect x="541.16" y="746.4" width="6.2" height="40.6" rx="3" fill="url(#gd)"/><rect x="548.83" y="623.5" width="6.2" height="40.6" rx="3" fill="url(#gu2)"/><rect x="548.83" y="740" width="6.2" height="47" rx="3" fill="url(#gd)"/><rect x="556.49" y="623.5" width="6.2" height="26.8" rx="3" fill="url(#gu2)"/><rect x="556.49" y="722.9" width="6.2" height="64.1" rx="3" fill="url(#gd)"/><rect x="564.15" y="623.5" width="6.2" height="37" rx="3" fill="url(#gu2)"/><rect x="564.15" y="736.4" width="6.2" height="50.6" rx="3" fill="url(#gd)"/><rect x="571.81" y="623.5" width="6.2" height="17.1" rx="3" fill="url(#gu2)"/><rect x="571.81" y="751.1" width="6.2" height="35.9" rx="3" fill="url(#gd)"/><rect x="579.47" y="623.5" width="6.2" height="6.5" rx="3" fill="url(#gu2)"/><rect x="579.47" y="746.4" width="6.2" height="40.6" rx="3" fill="url(#gd)"/><rect x="587.13" y="623.5" width="6.2" height="11.8" rx="3" fill="url(#gu2)"/><rect x="587.13" y="747.1" width="6.2" height="39.9" rx="3" fill="url(#gd)"/><rect x="594.79" y="623.5" width="6.2" height="12.2" rx="3" fill="url(#gu2)"/><rect x="594.79" y="737.9" width="6.2" height="49.1" rx="3" fill="url(#gd)"/><rect x="602.45" y="623.5" width="6.2" height="16.5" rx="3" fill="url(#gu2)"/><rect x="602.45" y="754" width="6.2" height="33" rx="3" fill="url(#gd)"/><rect x="610.12" y="623.5" width="6.2" height="29.3" rx="3" fill="url(#gu2)"/><rect x="610.12" y="766.2" width="6.2" height="20.8" rx="3" fill="url(#gd)"/><rect x="617.78" y="623.5" width="6.2" height="31.1" rx="3" fill="url(#gu2)"/><rect x="617.78" y="728.3" width="6.2" height="58.7" rx="3" fill="url(#gd)"/><rect x="625.44" y="623.5" width="6.2" height="25.1" rx="3" fill="url(#gu2)"/><rect x="625.44" y="735.2" width="6.2" height="51.8" rx="3" fill="url(#gd)"/><rect x="633.1" y="623.5" width="6.2" height="47.1" rx="3" fill="url(#gu2)"/><rect x="633.1" y="751.8" width="6.2" height="35.2" rx="3" fill="url(#gd)"/><path d="M61.6 663.1V760.9" stroke="#000" stroke-width="1.7" fill="none"/><path d="M58.6 663.1H64.6M58.6 760.9H64.6" stroke="#000" stroke-width="1.9" fill="none"/><rect x="58.4" y="699.4" width="6.4" height="24.6" fill="#F05C57" stroke="#262626" stroke-width="1.45"/><path d="M61.6 699.4V724" stroke="#0a0a0a" stroke-width="1.7" fill="none"/><path d="M58.4 711.2H64.8" stroke="#141414" stroke-width="2.8" fill="none"/><path d="M69.26 646V735.1" stroke="#000" stroke-width="1.7" fill="none"/><path d="M66.26 646H72.26M66.26 735.1H72.26" stroke="#000" stroke-width="1.9" fill="none"/><rect x="66.06" y="679.1" width="6.4" height="22.4" fill="#F05C57" stroke="#262626" stroke-width="1.45"/><path d="M69.26 679.1V701.5" stroke="#0a0a0a" stroke-width="1.7" fill="none"/><path d="M66.06 690.2H72.46" stroke="#141414" stroke-width="2.8" fill="none"/><path d="M76.92 662.6V758.2" stroke="#000" stroke-width="1.7" fill="none"/><path d="M73.92 662.6H79.92M73.92 758.2H79.92" stroke="#000" stroke-width="1.9" fill="none"/><rect x="73.72" y="698.3" width="6.4" height="24" fill="#F05C57" stroke="#262626" stroke-width="1.45"/><path d="M76.92 698.3V722.3" stroke="#0a0a0a" stroke-width="1.7" fill="none"/><path d="M73.72 710.1H80.12" stroke="#141414" stroke-width="2.8" fill="none"/><path d="M84.58 637.4V718.2" stroke="#000" stroke-width="1.7" fill="none"/><path d="M81.58 637.4H87.58M81.58 718.2H87.58" stroke="#000" stroke-width="1.9" fill="none"/><rect x="81.38" y="667.4" width="6.4" height="20.9" fill="#F05C57" stroke="#262626" stroke-width="1.45"/><path d="M84.58 667.4V688.3" stroke="#0a0a0a" stroke-width="1.7" fill="none"/><path d="M81.38 678H87.78" stroke="#141414" stroke-width="2.8" fill="none"/><path d="M92.25 656.7V756.7" stroke="#000" stroke-width="1.7" fill="none"/><path d="M89.25 656.7H95.25M89.25 756.7H95.25" stroke="#000" stroke-width="1.9" fill="none"/><rect x="89.05" y="694.1" width="6.4" height="25.2" fill="#F05C57" stroke="#262626" stroke-width="1.45"/><path d="M92.25 694.1V719.3" stroke="#0a0a0a" stroke-width="1.7" fill="none"/><path d="M89.05 705.8H95.45" stroke="#141414" stroke-width="2.8" fill="none"/><path d="M99.91 664.1V767.1" stroke="#000" stroke-width="1.7" fill="none"/><path d="M96.91 664.1H102.91M96.91 767.1H102.91" stroke="#000" stroke-width="1.9" fill="none"/><rect x="96.71" y="702.6" width="6.4" height="26.1" fill="#F05C57" stroke="#262626" stroke-width="1.45"/><path d="M99.91 702.6V728.7" stroke="#0a0a0a" stroke-width="1.7" fill="none"/><path d="M96.71 715H103.11" stroke="#141414" stroke-width="2.8" fill="none"/><path d="M107.57 646V745.8" stroke="#000" stroke-width="1.7" fill="none"/><path d="M104.57 646H110.57M104.57 745.8H110.57" stroke="#000" stroke-width="1.9" fill="none"/><rect x="104.37" y="683.4" width="6.4" height="25.2" fill="#F05C57" stroke="#262626" stroke-width="1.45"/><path d="M107.57 683.4V708.6" stroke="#0a0a0a" stroke-width="1.7" fill="none"/><path d="M104.37 696.2H110.77" stroke="#141414" stroke-width="2.8" fill="none"/><path d="M115.23 637.4V751.3" stroke="#000" stroke-width="1.7" fill="none"/><path d="M112.23 637.4H118.23M112.23 751.3H118.23" stroke="#000" stroke-width="1.9" fill="none"/><rect x="112.03" y="679.5" width="6.4" height="29.1" fill="#F05C57" stroke="#262626" stroke-width="1.45"/><path d="M115.23 679.5V708.6" stroke="#0a0a0a" stroke-width="1.7" fill="none"/><path d="M112.03 695.1H118.43" stroke="#141414" stroke-width="2.8" fill="none"/><path d="M122.89 643.4V756.5" stroke="#000" stroke-width="1.7" fill="none"/><path d="M119.89 643.4H125.89M119.89 756.5H125.89" stroke="#000" stroke-width="1.9" fill="none"/><rect x="119.69" y="686.2" width="6.4" height="28.2" fill="#F05C57" stroke="#262626" stroke-width="1.45"/><path d="M122.89 686.2V714.4" stroke="#0a0a0a" stroke-width="1.7" fill="none"/><path d="M119.69 700.5H126.09" stroke="#141414" stroke-width="2.8" fill="none"/><path d="M130.55 635.3V750" stroke="#000" stroke-width="1.7" fill="none"/><path d="M127.55 635.3H133.55M127.55 750H133.55" stroke="#000" stroke-width="1.9" fill="none"/><rect x="127.35" y="678.2" width="6.4" height="29.1" fill="#F05C57" stroke="#262626" stroke-width="1.45"/><path d="M130.55 678.2V707.3" stroke="#0a0a0a" stroke-width="1.7" fill="none"/><path d="M127.35 693.4H133.75" stroke="#141414" stroke-width="2.8" fill="none"/><path d="M138.21 658.4V733.6" stroke="#000" stroke-width="1.7" fill="none"/><path d="M135.21 658.4H141.21M135.21 733.6H141.21" stroke="#000" stroke-width="1.9" fill="none"/><rect x="135.01" y="686.6" width="6.4" height="18.6" fill="#F05C57" stroke="#262626" stroke-width="1.45"/><path d="M138.21 686.6V705.2" stroke="#0a0a0a" stroke-width="1.7" fill="none"/><path d="M135.01 695.8H141.41" stroke="#141414" stroke-width="2.8" fill="none"/><path d="M145.87 659.9V738.5" stroke="#000" stroke-width="1.7" fill="none"/><path d="M142.87 659.9H148.87M142.87 738.5H148.87" stroke="#000" stroke-width="1.9" fill="none"/><rect x="142.67" y="689.8" width="6.4" height="19.2" fill="#F05C57" stroke="#262626" stroke-width="1.45"/><path d="M145.87 689.8V709" stroke="#0a0a0a" stroke-width="1.7" fill="none"/><path d="M142.67 699.4H149.07" stroke="#141414" stroke-width="2.8" fill="none"/><path d="M153.54 680.6V773.8" stroke="#000" stroke-width="1.7" fill="none"/><path d="M150.54 680.6H156.54M150.54 773.8H156.54" stroke="#000" stroke-width="1.9" fill="none"/><rect x="150.34" y="715.4" width="6.4" height="23.5" fill="#F05C57" stroke="#262626" stroke-width="1.45"/><path d="M153.54 715.4V738.9" stroke="#0a0a0a" stroke-width="1.7" fill="none"/><path d="M150.34 727.2H156.74" stroke="#141414" stroke-width="2.8" fill="none"/><path d="M161.2 679.5V768" stroke="#000" stroke-width="1.7" fill="none"/><path d="M158.2 679.5H164.2M158.2 768H164.2" stroke="#000" stroke-width="1.9" fill="none"/><rect x="158" y="712.9" width="6.4" height="22.4" fill="#F05C57" stroke="#262626" stroke-width="1.45"/><path d="M161.2 712.9V735.3" stroke="#0a0a0a" stroke-width="1.7" fill="none"/><path d="M158 723.5H164.4" stroke="#141414" stroke-width="2.8" fill="none"/><path d="M168.86 643.4V730" stroke="#000" stroke-width="1.7" fill="none"/><path d="M165.86 643.4H171.86M165.86 730H171.86" stroke="#000" stroke-width="1.9" fill="none"/><rect x="165.66" y="675.9" width="6.4" height="21.8" fill="#F05C57" stroke="#262626" stroke-width="1.45"/><path d="M168.86 675.9V697.7" stroke="#0a0a0a" stroke-width="1.7" fill="none"/><path d="M165.66 686.6H172.06" stroke="#141414" stroke-width="2.8" fill="none"/><path d="M176.52 666.7V762.9" stroke="#000" stroke-width="1.7" fill="none"/><path d="M173.52 666.7H179.52M173.52 762.9H179.52" stroke="#000" stroke-width="1.9" fill="none"/><rect x="173.32" y="702.6" width="6.4" height="24.6" fill="#F05C57" stroke="#262626" stroke-width="1.45"/><path d="M176.52 702.6V727.2" stroke="#0a0a0a" stroke-width="1.7" fill="none"/><path d="M173.32 713.3H179.72" stroke="#141414" stroke-width="2.8" fill="none"/><path d="M184.18 661.6V741.1" stroke="#000" stroke-width="1.7" fill="none"/><path d="M181.18 661.6H187.18M181.18 741.1H187.18" stroke="#000" stroke-width="1.9" fill="none"/><rect x="180.98" y="691.3" width="6.4" height="19.9" fill="#F05C57" stroke="#262626" stroke-width="1.45"/><path d="M184.18 691.3V711.2" stroke="#0a0a0a" stroke-width="1.7" fill="none"/><path d="M180.98 701.1H187.38" stroke="#141414" stroke-width="2.8" fill="none"/><path d="M191.84 672.3V757.1" stroke="#000" stroke-width="1.7" fill="none"/><path d="M188.84 672.3H194.84M188.84 757.1H194.84" stroke="#000" stroke-width="1.9" fill="none"/><rect x="188.64" y="703.7" width="6.4" height="22" fill="#F05C57" stroke="#262626" stroke-width="1.45"/><path d="M191.84 703.7V725.7" stroke="#0a0a0a" stroke-width="1.7" fill="none"/><path d="M188.64 714.4H195.04" stroke="#141414" stroke-width="2.8" fill="none"/><path d="M199.5 663.7V750.9" stroke="#000" stroke-width="1.7" fill="none"/><path d="M196.5 663.7H202.5M196.5 750.9H202.5" stroke="#000" stroke-width="1.9" fill="none"/><rect x="196.3" y="696.2" width="6.4" height="22.4" fill="#F05C57" stroke="#262626" stroke-width="1.45"/><path d="M199.5 696.2V718.6" stroke="#0a0a0a" stroke-width="1.7" fill="none"/><path d="M196.3 707.3H202.7" stroke="#141414" stroke-width="2.8" fill="none"/><path d="M207.17 649.2V733" stroke="#000" stroke-width="1.7" fill="none"/><path d="M204.17 649.2H210.17M204.17 733H210.17" stroke="#000" stroke-width="1.9" fill="none"/><rect x="203.97" y="680.8" width="6.4" height="21.2" fill="#F05C57" stroke="#262626" stroke-width="1.45"/><path d="M207.17 680.8V702" stroke="#0a0a0a" stroke-width="1.7" fill="none"/><path d="M203.97 690.9H210.37" stroke="#141414" stroke-width="2.8" fill="none"/><path d="M214.83 678.7V768.8" stroke="#000" stroke-width="1.7" fill="none"/><path d="M211.83 678.7H217.83M211.83 768.8H217.83" stroke="#000" stroke-width="1.9" fill="none"/><rect x="211.63" y="712.2" width="6.4" height="22.9" fill="#F05C57" stroke="#262626" stroke-width="1.45"/><path d="M214.83 712.2V735.1" stroke="#0a0a0a" stroke-width="1.7" fill="none"/><path d="M211.63 724H218.03" stroke="#141414" stroke-width="2.8" fill="none"/><path d="M222.49 674.8V767.1" stroke="#000" stroke-width="1.7" fill="none"/><path d="M219.49 674.8H225.49M219.49 767.1H225.49" stroke="#000" stroke-width="1.9" fill="none"/><rect x="219.29" y="709" width="6.4" height="23.1" fill="#F05C57" stroke="#262626" stroke-width="1.45"/><path d="M222.49 709V732.1" stroke="#0a0a0a" stroke-width="1.7" fill="none"/><path d="M219.29 720.8H225.69" stroke="#141414" stroke-width="2.8" fill="none"/><path d="M230.15 671.2V750.3" stroke="#000" stroke-width="1.7" fill="none"/><path d="M227.15 671.2H233.15M227.15 750.3H233.15" stroke="#000" stroke-width="1.9" fill="none"/><rect x="226.95" y="700.5" width="6.4" height="20.3" fill="#F05C57" stroke="#262626" stroke-width="1.45"/><path d="M230.15 700.5V720.8" stroke="#0a0a0a" stroke-width="1.7" fill="none"/><path d="M226.95 710.7H233.35" stroke="#141414" stroke-width="2.8" fill="none"/><path d="M237.81 652.8V727.8" stroke="#000" stroke-width="1.7" fill="none"/><path d="M234.81 652.8H240.81M234.81 727.8H240.81" stroke="#000" stroke-width="1.9" fill="none"/><rect x="234.61" y="680.8" width="6.4" height="19.2" fill="#F05C57" stroke="#262626" stroke-width="1.45"/><path d="M237.81 680.8V700" stroke="#0a0a0a" stroke-width="1.7" fill="none"/><path d="M234.61 690.2H241.01" stroke="#141414" stroke-width="2.8" fill="none"/><path d="M245.47 684.9V774.2" stroke="#000" stroke-width="1.7" fill="none"/><path d="M242.47 684.9H248.47M242.47 774.2H248.47" stroke="#000" stroke-width="1.9" fill="none"/><rect x="242.27" y="718.2" width="6.4" height="22.9" fill="#F05C57" stroke="#262626" stroke-width="1.45"/><path d="M245.47 718.2V741.1" stroke="#0a0a0a" stroke-width="1.7" fill="none"/><path d="M242.27 729.3H248.67" stroke="#141414" stroke-width="2.8" fill="none"/><path d="M253.13 684.4V784.9" stroke="#000" stroke-width="1.7" fill="none"/><path d="M250.13 684.4H256.13M250.13 784.9H256.13" stroke="#000" stroke-width="1.9" fill="none"/><rect x="249.93" y="722.9" width="6.4" height="26.3" fill="#F05C57" stroke="#262626" stroke-width="1.45"/><path d="M253.13 722.9V749.2" stroke="#0a0a0a" stroke-width="1.7" fill="none"/><path d="M249.93 736.4H256.33" stroke="#141414" stroke-width="2.8" fill="none"/><path d="M260.79 669.9V757.1" stroke="#000" stroke-width="1.7" fill="none"/><path d="M257.79 669.9H263.79M257.79 757.1H263.79" stroke="#000" stroke-width="1.9" fill="none"/><rect x="257.59" y="701.5" width="6.4" height="22.9" fill="#F05C57" stroke="#262626" stroke-width="1.45"/><path d="M260.79 701.5V724.4" stroke="#0a0a0a" stroke-width="1.7" fill="none"/><path d="M257.59 712.9H263.99" stroke="#141414" stroke-width="2.8" fill="none"/><path d="M268.46 678V767.8" stroke="#000" stroke-width="1.7" fill="none"/><path d="M265.46 678H271.46M265.46 767.8H271.46" stroke="#000" stroke-width="1.9" fill="none"/><rect x="265.26" y="711.2" width="6.4" height="22.8" fill="#F05C57" stroke="#262626" stroke-width="1.45"/><path d="M268.46 711.2V734" stroke="#0a0a0a" stroke-width="1.7" fill="none"/><path d="M265.26 722.9H271.66" stroke="#141414" stroke-width="2.8" fill="none"/><path d="M276.12 636.8V705.4" stroke="#000" stroke-width="1.7" fill="none"/><path d="M273.12 636.8H279.12M273.12 705.4H279.12" stroke="#000" stroke-width="1.9" fill="none"/><rect x="272.92" y="662.4" width="6.4" height="17.8" fill="#F05C57" stroke="#262626" stroke-width="1.45"/><path d="M276.12 662.4V680.2" stroke="#0a0a0a" stroke-width="1.7" fill="none"/><path d="M272.92 671H279.32" stroke="#141414" stroke-width="2.8" fill="none"/><path d="M283.78 693V784.9" stroke="#000" stroke-width="1.7" fill="none"/><path d="M280.78 693H286.78M280.78 784.9H286.78" stroke="#000" stroke-width="1.9" fill="none"/><rect x="280.58" y="727.2" width="6.4" height="23.1" fill="#F05C57" stroke="#262626" stroke-width="1.45"/><path d="M283.78 727.2V750.3" stroke="#0a0a0a" stroke-width="1.7" fill="none"/><path d="M280.58 738.5H286.98" stroke="#141414" stroke-width="2.8" fill="none"/><path d="M291.44 658.8V734.7" stroke="#000" stroke-width="1.7" fill="none"/><path d="M288.44 658.8H294.44M288.44 734.7H294.44" stroke="#000" stroke-width="1.9" fill="none"/><rect x="288.24" y="687.6" width="6.4" height="18.9" fill="#F05C57" stroke="#262626" stroke-width="1.45"/><path d="M291.44 687.6V706.5" stroke="#0a0a0a" stroke-width="1.7" fill="none"/><path d="M288.24 696.8H294.64" stroke="#141414" stroke-width="2.8" fill="none"/><path d="M299.1 670.1V742.1" stroke="#000" stroke-width="1.7" fill="none"/><path d="M296.1 670.1H302.1M296.1 742.1H302.1" stroke="#000" stroke-width="1.9" fill="none"/><rect x="295.9" y="697.3" width="6.4" height="17.7" fill="#F05C57" stroke="#262626" stroke-width="1.45"/><path d="M299.1 697.3V715" stroke="#0a0a0a" stroke-width="1.7" fill="none"/><path d="M295.9 705.8H302.3" stroke="#141414" stroke-width="2.8" fill="none"/><path d="M306.76 677V750" stroke="#000" stroke-width="1.7" fill="none"/><path d="M303.76 677H309.76M303.76 750H309.76" stroke="#000" stroke-width="1.9" fill="none"/><rect x="303.56" y="704.7" width="6.4" height="17.8" fill="#F05C57" stroke="#262626" stroke-width="1.45"/><path d="M306.76 704.7V722.5" stroke="#0a0a0a" stroke-width="1.7" fill="none"/><path d="M303.56 713.3H309.96" stroke="#141414" stroke-width="2.8" fill="none"/><path d="M314.42 674.2V752.2" stroke="#000" stroke-width="1.7" fill="none"/><path d="M311.42 674.2H317.42M311.42 752.2H317.42" stroke="#000" stroke-width="1.9" fill="none"/><rect x="311.22" y="703.7" width="6.4" height="19.2" fill="#F05C57" stroke="#262626" stroke-width="1.45"/><path d="M314.42 703.7V722.9" stroke="#0a0a0a" stroke-width="1.7" fill="none"/><path d="M311.22 712.9H317.62" stroke="#141414" stroke-width="2.8" fill="none"/><path d="M322.09 666.7V762.4" stroke="#000" stroke-width="1.7" fill="none"/><path d="M319.09 666.7H325.09M319.09 762.4H325.09" stroke="#000" stroke-width="1.9" fill="none"/><rect x="318.89" y="702.6" width="6.4" height="24.2" fill="#F05C57" stroke="#262626" stroke-width="1.45"/><path d="M322.09 702.6V726.8" stroke="#0a0a0a" stroke-width="1.7" fill="none"/><path d="M318.89 714.4H325.29" stroke="#141414" stroke-width="2.8" fill="none"/><path d="M329.75 665.2V759.2" stroke="#000" stroke-width="1.7" fill="none"/><path d="M326.75 665.2H332.75M326.75 759.2H332.75" stroke="#000" stroke-width="1.9" fill="none"/><rect x="326.55" y="700.5" width="6.4" height="23.5" fill="#F05C57" stroke="#262626" stroke-width="1.45"/><path d="M329.75 700.5V724" stroke="#0a0a0a" stroke-width="1.7" fill="none"/><path d="M326.55 712.2H332.95" stroke="#141414" stroke-width="2.8" fill="none"/><path d="M337.41 675.9V773.1" stroke="#000" stroke-width="1.7" fill="none"/><path d="M334.41 675.9H340.41M334.41 773.1H340.41" stroke="#000" stroke-width="1.9" fill="none"/><rect x="334.21" y="712.2" width="6.4" height="24.6" fill="#F05C57" stroke="#262626" stroke-width="1.45"/><path d="M337.41 712.2V736.8" stroke="#0a0a0a" stroke-width="1.7" fill="none"/><path d="M334.21 725H340.61" stroke="#141414" stroke-width="2.8" fill="none"/><path d="M345.07 673.1V759.2" stroke="#000" stroke-width="1.7" fill="none"/><path d="M342.07 673.1H348.07M342.07 759.2H348.07" stroke="#000" stroke-width="1.9" fill="none"/><rect x="341.87" y="705.8" width="6.4" height="21.4" fill="#F05C57" stroke="#262626" stroke-width="1.45"/><path d="M345.07 705.8V727.2" stroke="#0a0a0a" stroke-width="1.7" fill="none"/><path d="M341.87 716.5H348.27" stroke="#141414" stroke-width="2.8" fill="none"/><path d="M352.73 678V778.5" stroke="#000" stroke-width="1.7" fill="none"/><path d="M349.73 678H355.73M349.73 778.5H355.73" stroke="#000" stroke-width="1.9" fill="none"/><rect x="349.53" y="715.4" width="6.4" height="25.7" fill="#F05C57" stroke="#262626" stroke-width="1.45"/><path d="M352.73 715.4V741.1" stroke="#0a0a0a" stroke-width="1.7" fill="none"/><path d="M349.53 728.2H355.93" stroke="#141414" stroke-width="2.8" fill="none"/><path d="M360.39 674.8V773.1" stroke="#000" stroke-width="1.7" fill="none"/><path d="M357.39 674.8H363.39M357.39 773.1H363.39" stroke="#000" stroke-width="1.9" fill="none"/><rect x="357.19" y="711.2" width="6.4" height="24.5" fill="#F05C57" stroke="#262626" stroke-width="1.45"/><path d="M360.39 711.2V735.7" stroke="#0a0a0a" stroke-width="1.7" fill="none"/><path d="M357.19 724H363.59" stroke="#141414" stroke-width="2.8" fill="none"/><path d="M368.05 661.6V744.7" stroke="#000" stroke-width="1.7" fill="none"/><path d="M365.05 661.6H371.05M365.05 744.7H371.05" stroke="#000" stroke-width="1.9" fill="none"/><rect x="364.85" y="692.4" width="6.4" height="21.5" fill="#F05C57" stroke="#262626" stroke-width="1.45"/><path d="M368.05 692.4V713.9" stroke="#0a0a0a" stroke-width="1.7" fill="none"/><path d="M364.85 703H371.25" stroke="#141414" stroke-width="2.8" fill="none"/><path d="M375.71 661.6V749.2" stroke="#000" stroke-width="1.7" fill="none"/><path d="M372.71 661.6H378.71M372.71 749.2H378.71" stroke="#000" stroke-width="1.9" fill="none"/><rect x="372.51" y="694.5" width="6.4" height="22" fill="#F05C57" stroke="#262626" stroke-width="1.45"/><path d="M375.71 694.5V716.5" stroke="#0a0a0a" stroke-width="1.7" fill="none"/><path d="M372.51 705.2H378.91" stroke="#141414" stroke-width="2.8" fill="none"/><path d="M383.38 672.1V762.9" stroke="#000" stroke-width="1.7" fill="none"/><path d="M380.38 672.1H386.38M380.38 762.9H386.38" stroke="#000" stroke-width="1.9" fill="none"/><rect x="380.18" y="706.5" width="6.4" height="22.8" fill="#F05C57" stroke="#262626" stroke-width="1.45"/><path d="M383.38 706.5V729.3" stroke="#0a0a0a" stroke-width="1.7" fill="none"/><path d="M380.18 717.6H386.58" stroke="#141414" stroke-width="2.8" fill="none"/><path d="M391.04 679.7V747.9" stroke="#000" stroke-width="1.7" fill="none"/><path d="M388.04 679.7H394.04M388.04 747.9H394.04" stroke="#000" stroke-width="1.9" fill="none"/><rect x="387.84" y="705.4" width="6.4" height="16.9" fill="#F05C57" stroke="#262626" stroke-width="1.45"/><path d="M391.04 705.4V722.3" stroke="#0a0a0a" stroke-width="1.7" fill="none"/><path d="M387.84 712.2H394.24" stroke="#141414" stroke-width="2.8" fill="none"/><path d="M398.7 672.7V743.2" stroke="#000" stroke-width="1.7" fill="none"/><path d="M395.7 672.7H401.7M395.7 743.2H401.7" stroke="#000" stroke-width="1.9" fill="none"/><rect x="395.5" y="699" width="6.4" height="17.9" fill="#F05C57" stroke="#262626" stroke-width="1.45"/><path d="M398.7 699V716.9" stroke="#0a0a0a" stroke-width="1.7" fill="none"/><path d="M395.5 707.3H401.9" stroke="#141414" stroke-width="2.8" fill="none"/><path d="M406.36 667.4V731" stroke="#000" stroke-width="1.7" fill="none"/><path d="M403.36 667.4H409.36M403.36 731H409.36" stroke="#000" stroke-width="1.9" fill="none"/><rect x="403.16" y="690.9" width="6.4" height="16.4" fill="#F05C57" stroke="#262626" stroke-width="1.45"/><path d="M406.36 690.9V707.3" stroke="#0a0a0a" stroke-width="1.7" fill="none"/><path d="M403.16 699H409.56" stroke="#141414" stroke-width="2.8" fill="none"/><path d="M414.02 663.7V753.9" stroke="#000" stroke-width="1.7" fill="none"/><path d="M411.02 663.7H417.02M411.02 753.9H417.02" stroke="#000" stroke-width="1.9" fill="none"/><rect x="410.82" y="696.8" width="6.4" height="23.3" fill="#F05C57" stroke="#262626" stroke-width="1.45"/><path d="M414.02 696.8V720.1" stroke="#0a0a0a" stroke-width="1.7" fill="none"/><path d="M410.82 708.4H417.22" stroke="#141414" stroke-width="2.8" fill="none"/><path d="M421.68 678.7V780.6" stroke="#000" stroke-width="1.7" fill="none"/><path d="M418.68 678.7H424.68M418.68 780.6H424.68" stroke="#000" stroke-width="1.9" fill="none"/><rect x="418.48" y="716.5" width="6.4" height="26.1" fill="#F05C57" stroke="#262626" stroke-width="1.45"/><path d="M421.68 716.5V742.6" stroke="#0a0a0a" stroke-width="1.7" fill="none"/><path d="M418.48 729.7H424.88" stroke="#141414" stroke-width="2.8" fill="none"/><path d="M429.34 677.6V777.4" stroke="#000" stroke-width="1.7" fill="none"/><path d="M426.34 677.6H432.34M426.34 777.4H432.34" stroke="#000" stroke-width="1.9" fill="none"/><rect x="426.14" y="713.9" width="6.4" height="26.1" fill="#F05C57" stroke="#262626" stroke-width="1.45"/><path d="M429.34 713.9V740" stroke="#0a0a0a" stroke-width="1.7" fill="none"/><path d="M426.14 726.8H432.54" stroke="#141414" stroke-width="2.8" fill="none"/><path d="M437.01 641.7V751.1" stroke="#000" stroke-width="1.7" fill="none"/><path d="M434.01 641.7H440.01M434.01 751.1H440.01" stroke="#000" stroke-width="1.9" fill="none"/><rect x="433.81" y="683" width="6.4" height="27.5" fill="#1AB0B3" stroke="#262626" stroke-width="1.45"/><path d="M437.01 683V710.5" stroke="#0a0a0a" stroke-width="1.7" fill="none"/><path d="M433.81 696.8H440.21" stroke="#141414" stroke-width="2.8" fill="none"/><path d="M444.67 662.4V777" stroke="#000" stroke-width="1.7" fill="none"/><path d="M441.67 662.4H447.67M441.67 777H447.67" stroke="#000" stroke-width="1.9" fill="none"/><rect x="441.47" y="705.8" width="6.4" height="28.4" fill="#1AB0B3" stroke="#262626" stroke-width="1.45"/><path d="M444.67 705.8V734.2" stroke="#0a0a0a" stroke-width="1.7" fill="none"/><path d="M441.47 721.2H447.87" stroke="#141414" stroke-width="2.8" fill="none"/><path d="M452.33 641.7V749.6" stroke="#000" stroke-width="1.7" fill="none"/><path d="M449.33 641.7H455.33M449.33 749.6H455.33" stroke="#000" stroke-width="1.9" fill="none"/><rect x="449.13" y="683" width="6.4" height="26.4" fill="#1AB0B3" stroke="#262626" stroke-width="1.45"/><path d="M452.33 683V709.4" stroke="#0a0a0a" stroke-width="1.7" fill="none"/><path d="M449.13 696.8H455.53" stroke="#141414" stroke-width="2.8" fill="none"/><path d="M459.99 655.2V731" stroke="#000" stroke-width="1.7" fill="none"/><path d="M456.99 655.2H462.99M456.99 731H462.99" stroke="#000" stroke-width="1.9" fill="none"/><rect x="456.79" y="683.8" width="6.4" height="18.8" fill="#1AB0B3" stroke="#262626" stroke-width="1.45"/><path d="M459.99 683.8V702.6" stroke="#0a0a0a" stroke-width="1.7" fill="none"/><path d="M456.79 693H463.19" stroke="#141414" stroke-width="2.8" fill="none"/><path d="M467.65 654.5V732.5" stroke="#000" stroke-width="1.7" fill="none"/><path d="M464.65 654.5H470.65M464.65 732.5H470.65" stroke="#000" stroke-width="1.9" fill="none"/><rect x="464.45" y="683.8" width="6.4" height="19.4" fill="#1AB0B3" stroke="#262626" stroke-width="1.45"/><path d="M467.65 683.8V703.2" stroke="#0a0a0a" stroke-width="1.7" fill="none"/><path d="M464.45 693H470.85" stroke="#141414" stroke-width="2.8" fill="none"/><path d="M475.31 666.7V750.3" stroke="#000" stroke-width="1.7" fill="none"/><path d="M472.31 666.7H478.31M472.31 750.3H478.31" stroke="#000" stroke-width="1.9" fill="none"/><rect x="472.11" y="698.3" width="6.4" height="21" fill="#1AB0B3" stroke="#262626" stroke-width="1.45"/><path d="M475.31 698.3V719.3" stroke="#0a0a0a" stroke-width="1.7" fill="none"/><path d="M472.11 708H478.51" stroke="#141414" stroke-width="2.8" fill="none"/><path d="M482.97 651.8V756" stroke="#000" stroke-width="1.7" fill="none"/><path d="M479.97 651.8H485.97M479.97 756H485.97" stroke="#000" stroke-width="1.9" fill="none"/><rect x="479.77" y="690.4" width="6.4" height="26.5" fill="#1AB0B3" stroke="#262626" stroke-width="1.45"/><path d="M482.97 690.4V716.9" stroke="#0a0a0a" stroke-width="1.7" fill="none"/><path d="M479.77 703.2H486.17" stroke="#141414" stroke-width="2.8" fill="none"/><path d="M490.63 646.6V745.3" stroke="#000" stroke-width="1.7" fill="none"/><path d="M487.63 646.6H493.63M487.63 745.3H493.63" stroke="#000" stroke-width="1.9" fill="none"/><rect x="487.43" y="683.8" width="6.4" height="24.8" fill="#1AB0B3" stroke="#262626" stroke-width="1.45"/><path d="M490.63 683.8V708.6" stroke="#0a0a0a" stroke-width="1.7" fill="none"/><path d="M487.43 695.8H493.83" stroke="#141414" stroke-width="2.8" fill="none"/><path d="M498.3 641.3V743.6" stroke="#000" stroke-width="1.7" fill="none"/><path d="M495.3 641.3H501.3M495.3 743.6H501.3" stroke="#000" stroke-width="1.9" fill="none"/><rect x="495.1" y="679.1" width="6.4" height="25.6" fill="#1AB0B3" stroke="#262626" stroke-width="1.45"/><path d="M498.3 679.1V704.7" stroke="#0a0a0a" stroke-width="1.7" fill="none"/><path d="M495.1 690.9H501.5" stroke="#141414" stroke-width="2.8" fill="none"/><path d="M505.96 648.5V745.8" stroke="#000" stroke-width="1.7" fill="none"/><path d="M502.96 648.5H508.96M502.96 745.8H508.96" stroke="#000" stroke-width="1.9" fill="none"/><rect x="502.76" y="684.4" width="6.4" height="24.6" fill="#1AB0B3" stroke="#262626" stroke-width="1.45"/><path d="M505.96 684.4V709" stroke="#0a0a0a" stroke-width="1.7" fill="none"/><path d="M502.76 696.6H509.16" stroke="#141414" stroke-width="2.8" fill="none"/><path d="M513.62 654.5V736.2" stroke="#000" stroke-width="1.7" fill="none"/><path d="M510.62 654.5H516.62M510.62 736.2H516.62" stroke="#000" stroke-width="1.9" fill="none"/><rect x="510.42" y="685.1" width="6.4" height="20.7" fill="#1AB0B3" stroke="#262626" stroke-width="1.45"/><path d="M513.62 685.1V705.8" stroke="#0a0a0a" stroke-width="1.7" fill="none"/><path d="M510.42 695.8H516.82" stroke="#141414" stroke-width="2.8" fill="none"/><path d="M521.28 650.9V738.9" stroke="#000" stroke-width="1.7" fill="none"/><path d="M518.28 650.9H524.28M518.28 738.9H524.28" stroke="#000" stroke-width="1.9" fill="none"/><rect x="518.08" y="683.8" width="6.4" height="22.7" fill="#1AB0B3" stroke="#262626" stroke-width="1.45"/><path d="M521.28 683.8V706.5" stroke="#0a0a0a" stroke-width="1.7" fill="none"/><path d="M518.08 695.1H524.48" stroke="#141414" stroke-width="2.8" fill="none"/><path d="M528.94 660.3V747.9" stroke="#000" stroke-width="1.7" fill="none"/><path d="M525.94 660.3H531.94M525.94 747.9H531.94" stroke="#000" stroke-width="1.9" fill="none"/><rect x="525.74" y="693.6" width="6.4" height="21.8" fill="#1AB0B3" stroke="#262626" stroke-width="1.45"/><path d="M528.94 693.6V715.4" stroke="#0a0a0a" stroke-width="1.7" fill="none"/><path d="M525.74 703.7H532.14" stroke="#141414" stroke-width="2.8" fill="none"/><path d="M536.6 663.7V750.7" stroke="#000" stroke-width="1.7" fill="none"/><path d="M533.6 663.7H539.6M533.6 750.7H539.6" stroke="#000" stroke-width="1.9" fill="none"/><rect x="533.4" y="696.2" width="6.4" height="22" fill="#1AB0B3" stroke="#262626" stroke-width="1.45"/><path d="M536.6 696.2V718.2" stroke="#0a0a0a" stroke-width="1.7" fill="none"/><path d="M533.4 705.8H539.8" stroke="#141414" stroke-width="2.8" fill="none"/><path d="M544.26 665.2V746.4" stroke="#000" stroke-width="1.7" fill="none"/><path d="M541.26 665.2H547.26M541.26 746.4H547.26" stroke="#000" stroke-width="1.9" fill="none"/><rect x="541.06" y="695.8" width="6.4" height="20.3" fill="#1AB0B3" stroke="#262626" stroke-width="1.45"/><path d="M544.26 695.8V716.1" stroke="#0a0a0a" stroke-width="1.7" fill="none"/><path d="M541.06 705.4H547.46" stroke="#141414" stroke-width="2.8" fill="none"/><path d="M551.93 664.1V740" stroke="#000" stroke-width="1.7" fill="none"/><path d="M548.93 664.1H554.93M548.93 740H554.93" stroke="#000" stroke-width="1.9" fill="none"/><rect x="548.73" y="692.6" width="6.4" height="19.2" fill="#1AB0B3" stroke="#262626" stroke-width="1.45"/><path d="M551.93 692.6V711.8" stroke="#0a0a0a" stroke-width="1.7" fill="none"/><path d="M548.73 702.2H555.13" stroke="#141414" stroke-width="2.8" fill="none"/><path d="M559.59 650.3V722.9" stroke="#000" stroke-width="1.7" fill="none"/><path d="M556.59 650.3H562.59M556.59 722.9H562.59" stroke="#000" stroke-width="1.9" fill="none"/><rect x="556.39" y="677.4" width="6.4" height="18.2" fill="#1AB0B3" stroke="#262626" stroke-width="1.45"/><path d="M559.59 677.4V695.6" stroke="#0a0a0a" stroke-width="1.7" fill="none"/><path d="M556.39 686.6H562.79" stroke="#141414" stroke-width="2.8" fill="none"/><path d="M567.25 660.5V736.4" stroke="#000" stroke-width="1.7" fill="none"/><path d="M564.25 660.5H570.25M564.25 736.4H570.25" stroke="#000" stroke-width="1.9" fill="none"/><rect x="564.05" y="688.7" width="6.4" height="19.3" fill="#1AB0B3" stroke="#262626" stroke-width="1.45"/><path d="M567.25 688.7V708" stroke="#0a0a0a" stroke-width="1.7" fill="none"/><path d="M564.05 698.3H570.45" stroke="#141414" stroke-width="2.8" fill="none"/><path d="M574.91 640.6V751.1" stroke="#000" stroke-width="1.7" fill="none"/><path d="M571.91 640.6H577.91M571.91 751.1H577.91" stroke="#000" stroke-width="1.9" fill="none"/><rect x="571.71" y="682.3" width="6.4" height="27.8" fill="#1AB0B3" stroke="#262626" stroke-width="1.45"/><path d="M574.91 682.3V710.1" stroke="#0a0a0a" stroke-width="1.7" fill="none"/><path d="M571.71 695.1H578.11" stroke="#141414" stroke-width="2.8" fill="none"/><path d="M582.57 630V746.4" stroke="#000" stroke-width="1.7" fill="none"/><path d="M579.57 630H585.57M579.57 746.4H585.57" stroke="#000" stroke-width="1.9" fill="none"/><rect x="579.37" y="673.1" width="6.4" height="29.5" fill="#1AB0B3" stroke="#262626" stroke-width="1.45"/><path d="M582.57 673.1V702.6" stroke="#0a0a0a" stroke-width="1.7" fill="none"/><path d="M579.37 687.6H585.77" stroke="#141414" stroke-width="2.8" fill="none"/><path d="M590.23 635.3V747.1" stroke="#000" stroke-width="1.7" fill="none"/><path d="M587.23 635.3H593.23M587.23 747.1H593.23" stroke="#000" stroke-width="1.9" fill="none"/><rect x="587.03" y="677.4" width="6.4" height="27.8" fill="#1AB0B3" stroke="#262626" stroke-width="1.45"/><path d="M590.23 677.4V705.2" stroke="#0a0a0a" stroke-width="1.7" fill="none"/><path d="M587.03 690.9H593.43" stroke="#141414" stroke-width="2.8" fill="none"/><path d="M597.89 635.7V737.9" stroke="#000" stroke-width="1.7" fill="none"/><path d="M594.89 635.7H600.89M594.89 737.9H600.89" stroke="#000" stroke-width="1.9" fill="none"/><rect x="594.69" y="673.2" width="6.4" height="26.3" fill="#1AB0B3" stroke="#262626" stroke-width="1.45"/><path d="M597.89 673.2V699.5" stroke="#0a0a0a" stroke-width="1.7" fill="none"/><path d="M594.69 686.6H601.09" stroke="#141414" stroke-width="2.8" fill="none"/><path d="M605.55 640V754" stroke="#000" stroke-width="1.7" fill="none"/><path d="M602.55 640H608.55M602.55 754H608.55" stroke="#000" stroke-width="1.9" fill="none"/><rect x="602.35" y="683" width="6.4" height="29.3" fill="#1AB0B3" stroke="#262626" stroke-width="1.45"/><path d="M605.55 683V712.3" stroke="#0a0a0a" stroke-width="1.7" fill="none"/><path d="M602.35 696.9H608.75" stroke="#141414" stroke-width="2.8" fill="none"/><path d="M613.22 652.8V766.2" stroke="#000" stroke-width="1.7" fill="none"/><path d="M610.22 652.8H616.22M610.22 766.2H616.22" stroke="#000" stroke-width="1.9" fill="none"/><rect x="610.02" y="695.2" width="6.4" height="29.3" fill="#1AB0B3" stroke="#262626" stroke-width="1.45"/><path d="M613.22 695.2V724.5" stroke="#0a0a0a" stroke-width="1.7" fill="none"/><path d="M610.02 708.4H616.42" stroke="#141414" stroke-width="2.8" fill="none"/><path d="M620.88 654.6V728.3" stroke="#000" stroke-width="1.7" fill="none"/><path d="M617.88 654.6H623.88M617.88 728.3H623.88" stroke="#000" stroke-width="1.9" fill="none"/><rect x="617.68" y="681.9" width="6.4" height="19.3" fill="#1AB0B3" stroke="#262626" stroke-width="1.45"/><path d="M620.88 681.9V701.2" stroke="#0a0a0a" stroke-width="1.7" fill="none"/><path d="M617.68 691.3H624.08" stroke="#141414" stroke-width="2.8" fill="none"/><path d="M628.54 648.6V735.2" stroke="#000" stroke-width="1.7" fill="none"/><path d="M625.54 648.6H631.54M625.54 735.2H631.54" stroke="#000" stroke-width="1.9" fill="none"/><rect x="625.34" y="680.9" width="6.4" height="22.2" fill="#1AB0B3" stroke="#262626" stroke-width="1.45"/><path d="M628.54 680.9V703.1" stroke="#0a0a0a" stroke-width="1.7" fill="none"/><path d="M625.34 693.5H631.74" stroke="#141414" stroke-width="2.8" fill="none"/><path d="M636.2 670.6V751.8" stroke="#000" stroke-width="1.7" fill="none"/><path d="M633.2 670.6H639.2M633.2 751.8H639.2" stroke="#000" stroke-width="1.9" fill="none"/><rect x="633" y="701" width="6.4" height="20.5" fill="#1AB0B3" stroke="#262626" stroke-width="1.45"/><path d="M636.2 701V721.5" stroke="#0a0a0a" stroke-width="1.7" fill="none"/><path d="M633 710.8H639.4" stroke="#141414" stroke-width="2.8" fill="none"/><rect x="57.4" y="618.3" width="582.9" height="174" fill="none" stroke="#3d3d3d" stroke-width="1.05"/><line x1="53.1" y1="652.2" x2="57.4" y2="652.2" stroke="#1a1a1a" stroke-width="1.1"/><text x="42.41" y="657.28" font-size="14.3" fill="#1a1a1a">1</text><line x1="53.1" y1="705.4" x2="57.4" y2="705.4" stroke="#1a1a1a" stroke-width="1.1"/><text x="42.26" y="710.48" font-size="14.3" fill="#1a1a1a">0</text><line x1="53.1" y1="758.5" x2="57.4" y2="758.5" stroke="#1a1a1a" stroke-width="1.1"/><text x="37.64" y="763.58" font-size="14.3" fill="#1a1a1a">-1</text><text transform="translate(28,706.5) rotate(-90)" font-size="19.2" fill="#000" text-anchor="middle">Relative log expression</text><text transform="translate(52.42,834.8) scale(1.01,1)" font-size="19.3" fill="#000">Sample_type</text><rect x="176.7" y="813.6" width="25.8" height="28.4" fill="#EEEEEE"/><path d="M189.6 815.8V840.2" stroke="#1a1a1a" stroke-width="1.2"/><rect x="179.4" y="820.9" width="20.4" height="14.6" fill="#F05C57" stroke="#2b2b2b" stroke-width="1.1"/><path d="M179.4 828.1H199.8" stroke="#1a1a1a" stroke-width="1.4"/><text transform="translate(211.45,834.8) scale(1,1)" font-size="18" fill="#000">Pig_feces_1_spiked</text><rect x="383.3" y="813.6" width="25.8" height="28.4" fill="#EEEEEE"/><path d="M396.2 815.8V840.2" stroke="#1a1a1a" stroke-width="1.2"/><rect x="386" y="820.9" width="20.4" height="14.6" fill="#1AB0B3" stroke="#2b2b2b" stroke-width="1.1"/><path d="M386 828.1H406.4" stroke="#1a1a1a" stroke-width="1.4"/><text transform="translate(418.15,834.8) scale(1,1)" font-size="18" fill="#000">Pig_feces_2_spiked</text></svg></body></html>
